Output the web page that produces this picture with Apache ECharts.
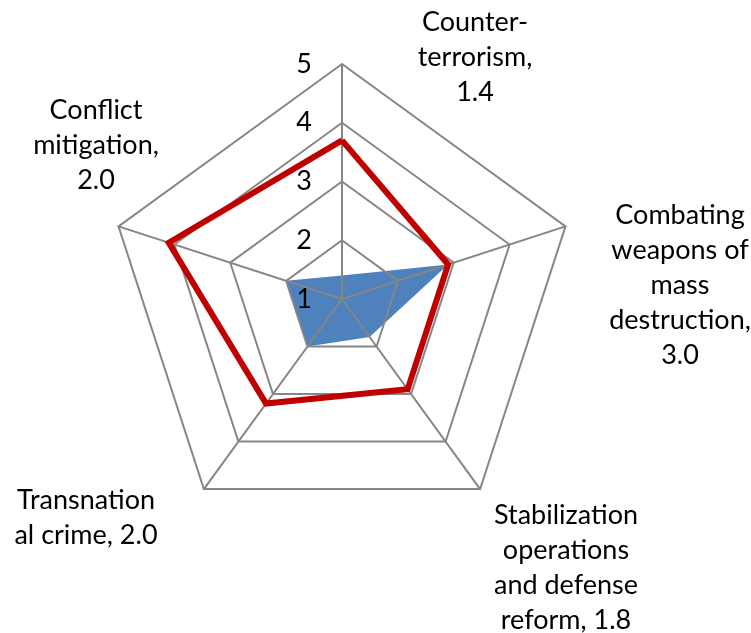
<!DOCTYPE html>
<html>
<head>
<meta charset="utf-8">
<script src="https://cdn.jsdelivr.net/npm/echarts@6/dist/echarts.min.js"></script>
<style>
  html, body { margin: 0; padding: 0; background: #fff; }
  #main { width: 751px; height: 633px; }
</style>
</head>
<body>
<div id="main"></div>
<script>
// indicators, in the order echarts lays them out (counter-clockwise from the top)
var categories = ['Counter-terrorism', 'Conflict mitigation', 'Transnational crime',
    'Stabilization operations and defense reform', 'Combating weapons of mass destruction'];
var labelText = ['Counter-\nterrorism,\n1.4', 'Conflict\nmitigation,\n2.0', 'Transnation\nal crime, 2.0',
    'Stabilization\noperations\nand defense\nreform, 1.8', 'Combating\nweapons of\nmass\ndestruction,\n3.0'];
var blueValues = [1.4, 2.0, 2.0, 1.8, 2.9];
var redValues = [3.7, 4.1, 3.2, 2.9, 2.9];
var axisMin = 1;
var axisMax = 5;

// where each category label sits
var labelPos = [[475, 57], [96, 145], [86, 518], [566, 568], [680, 285]];

var font = 'Lato, "Open Sans", sans-serif';
var gray = '#868686';

var myChart = echarts.init(document.getElementById('main'));

var indicator = categories.map(function (c, i) {
    var ind = { name: c, min: axisMin, max: axisMax };
    if (i === 0) {
        ind.axisLabel = { show: true };
    }
    return ind;
});

var option = {
    animation: false,
    radar: {
        z: 2,
        indicator: indicator,
        center: [342, 299],
        radius: 235,
        startAngle: 90,
        splitNumber: 4,
        shape: 'polygon',
        axisName: { show: false },
        axisLabel: {
            show: false,
            showMinLabel: true,
            showMaxLabel: true,
            color: '#000',
            fontSize: 27,
            fontFamily: font,
            margin: 30
        },
        axisTick: { show: false },
        axisLine: { lineStyle: { color: gray, width: 2 } },
        splitLine: { lineStyle: { color: gray, width: 2 } },
        splitArea: { show: false }
    },
    graphic: categories.map(function (c, i) {
        return {
            type: 'text',
            x: labelPos[i][0],
            y: labelPos[i][1],
            style: {
                text: labelText[i],
                font: '27px ' + font,
                fill: '#000',
                align: 'center',
                verticalAlign: 'middle',
                lineHeight: 35
            }
        };
    }),
    series: [
        {
            type: 'radar',
            z: 1,
            symbol: 'none',
            data: [
                {
                    value: blueValues,
                    name: 'blue',
                    lineStyle: { width: 0, color: '#4f81bd' },
                    areaStyle: { color: '#4f81bd', opacity: 1 }
                }
            ]
        },
        {
            type: 'radar',
            z: 3,
            symbol: 'none',
            data: [
                {
                    value: redValues,
                    name: 'red',
                    lineStyle: { width: 6, color: '#c00000', join: 'miter' }
                }
            ]
        }
    ]
};

myChart.setOption(option);
</script>
</body>
</html>
